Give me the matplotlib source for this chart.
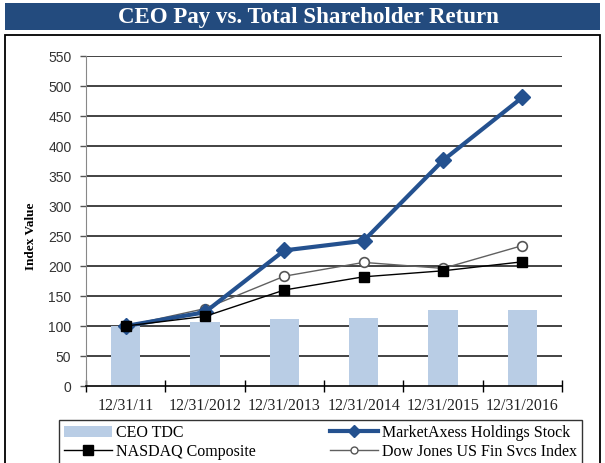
import numpy as np
import matplotlib.pyplot as plt
from matplotlib.patches import Rectangle
from matplotlib.lines import Line2D

# 数据
years = ["12/31/11", "12/31/2012", "12/31/2013", "12/31/2014", "12/31/2015", "12/31/2016"]
ceo_tdc = [100, 107, 111, 114, 127, 127]
marketaxess = [100, 123, 226, 242, 376, 481]
nasdaq = [100, 116, 160, 182, 192, 207]
dow_jones = [100, 129, 183, 206, 196, 234]

serif = "Liberation Serif"
sans = "Liberation Sans"

fig = plt.figure(figsize=(6.05, 4.63), dpi=100)
W, H = 605.0, 463.0

# 标题栏
fig.patches.append(Rectangle((5 / W, 1 - 30 / H), 595 / W, 27 / H,
                             transform=fig.transFigure, facecolor="#234b7e",
                             edgecolor="none", zorder=0))
fig.text(308 / W, 1 - 17 / H, "CEO Pay vs. Total Shareholder Return",
         ha="center", va="center", color="white", fontsize=16.5,
         fontweight="bold", family=serif)
# 外框
fig.patches.append(Rectangle((5 / W, -0.05), 595 / W, 1 - 35 / H + 0.05,
                             transform=fig.transFigure, facecolor="none",
                             edgecolor="black", linewidth=1.3, zorder=0))

ax = fig.add_axes([86 / W, 1 - 386 / H, 476 / W, 330 / H])
x = np.arange(len(years))

ax.set_ylim(0, 550)
ax.set_xlim(-0.5, len(years) - 0.5)
ax.set_yticks(range(0, 551, 50))
for v in range(50, 551, 50):
    ax.axhline(v, color="#222222", linewidth=1.2, zorder=1)

ax.bar(x, ceo_tdc, width=0.37, color="#b9cde5", zorder=2, label="CEO TDC")
ax.plot(x, dow_jones, color="#606060", linewidth=1, marker="o", markersize=7,
        markerfacecolor="white", markeredgecolor="#555555", markeredgewidth=1.2,
        zorder=3, label="Dow Jones US Fin Svcs Index")
ax.plot(x, marketaxess, color="#24518f", linewidth=3, marker="D", markersize=8,
        zorder=4, label="MarketAxess Holdings Stock")
ax.plot(x, nasdaq, color="black", linewidth=1, marker="s", markersize=6.5,
        zorder=5, label="NASDAQ Composite")

ax.spines["top"].set_visible(False)
ax.spines["right"].set_visible(False)
ax.spines["left"].set_color("#888888")
ax.spines["bottom"].set_color("black")
ax.spines["bottom"].set_linewidth(1.2)

ax.set_xticks(x)
ax.set_xticklabels(years, fontsize=11.5, family=serif, color="#222222")
ax.tick_params(axis="x", which="major", length=0, pad=9)
ax.set_xticks(np.arange(-0.5, len(years), 1.0), minor=True)
ax.tick_params(axis="x", which="minor", direction="inout", length=9,
               width=1, color="black")
ax.tick_params(axis="y", direction="out", length=4.5, width=1, color="#555555",
               labelsize=10, labelcolor="#333333", pad=6)
for lab in ax.get_yticklabels():
    lab.set_family(sans)

fig.text(31 / W, 1 - 236 / H, "Index Value", rotation=90, ha="center",
         va="center", fontsize=9.5, fontweight="bold", family=serif)

# 图例
handles = [
    Rectangle((0, 0), 1, 1, facecolor="#b9cde5", edgecolor="none"),
    Line2D([], [], color="black", linewidth=1, marker="s", markersize=6.5),
    Line2D([], [], color="#24518f", linewidth=3, marker="D", markersize=6),
    Line2D([], [], color="#606060", linewidth=1, marker="o", markersize=5,
           markerfacecolor="white", markeredgecolor="#555555"),
]
labels = ["CEO TDC", "NASDAQ Composite", "MarketAxess Holdings Stock",
          "Dow Jones US Fin Svcs Index"]
leg = fig.legend(handles, labels, ncol=2, loc="upper left",
                 bbox_to_anchor=(59 / W, 0.0, 523 / W, 1 - 420 / H),
                 bbox_transform=fig.transFigure, mode="expand", borderaxespad=0,
                 fancybox=False, frameon=True, handlelength=3.0,
                 handletextpad=0.25, labelspacing=0.2, borderpad=0.3,
                 prop={"family": serif, "size": 11.5})
leg.get_frame().set_edgecolor("black")
leg.get_frame().set_linewidth(1.0)

fig.savefig("out.png", dpi=100)
